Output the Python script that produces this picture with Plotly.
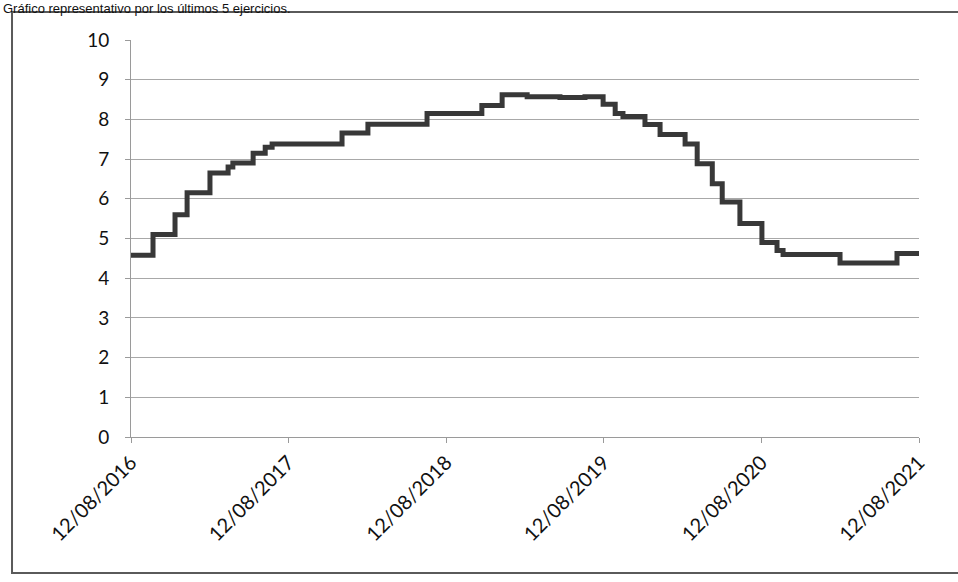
import plotly.graph_objects as go

# Step change dates and values
change_dates = [
    "2016-08-12", "2016-10-02", "2016-11-22", "2016-12-20", "2017-02-11",
    "2017-03-25", "2017-04-05", "2017-05-22", "2017-06-19", "2017-07-05",
    "2017-12-14", "2018-02-12", "2018-06-29", "2018-11-03", "2018-12-20",
    "2019-02-16", "2019-05-03", "2019-06-30", "2019-08-11", "2019-09-08",
    "2019-09-26", "2019-11-16", "2019-12-21", "2020-02-17", "2020-03-16",
    "2020-04-20", "2020-05-13", "2020-06-23", "2020-08-13", "2020-09-17",
    "2020-10-01", "2021-02-10", "2021-06-22", "2021-08-12",
]
change_values = [
    4.58, 5.10, 5.60, 6.15, 6.65,
    6.80, 6.90, 7.15, 7.30, 7.38,
    7.66, 7.88, 8.15, 8.35, 8.62,
    8.57, 8.55, 8.57, 8.38, 8.15,
    8.07, 7.87, 7.62, 7.38, 6.88,
    6.38, 5.92, 5.38, 4.90, 4.70,
    4.60, 4.38, 4.62, 4.62,
]

x_tick_vals = ["2016-08-12", "2017-08-12", "2018-08-12", "2019-08-12", "2020-08-12", "2021-08-12"]
x_tick_text = ["12/08/2016", "12/08/2017", "12/08/2018", "12/08/2019", "12/08/2020", "12/08/2021"]
y_tick_vals = [0, 1, 2, 3, 4, 5, 6, 7, 8, 9, 10]

title_text = "Gráfico representativo por los últimos 5 ejercicios."

FONT = "Lato, Open Sans, sans-serif"

fig = go.Figure()
fig.add_trace(go.Scatter(
    x=change_dates, y=change_values, mode="lines",
    line=dict(shape="hv", color="#383838", width=5),
    showlegend=False, hoverinfo="skip",
))

fig.update_layout(
    width=958, height=582,
    margin=dict(l=131, r=39, t=40, b=145),
    paper_bgcolor="white", plot_bgcolor="white",
    font=dict(family=FONT, size=19, color="#111111"),
    xaxis=dict(
        type="date", range=["2016-08-12", "2021-08-12"],
        tickvals=x_tick_vals, ticktext=x_tick_text, tickangle=-45,
        showgrid=False, zeroline=False,
        showline=True, linecolor="#9a9a9a", linewidth=1,
        ticks="outside", ticklen=5, tickcolor="#9a9a9a",
        tickfont=dict(family=FONT, size=20, color="#111111"),
    ),
    yaxis=dict(
        range=[0, 10], tickvals=y_tick_vals,
        showgrid=True, gridcolor="#a8a8a8", gridwidth=1,
        zeroline=False,
        showline=True, linecolor="#9a9a9a", linewidth=1,
        ticks="outside", ticklen=5, tickcolor="#9a9a9a",
        ticklabelstandoff=12,
        tickfont=dict(family=FONT, size=19, color="#111111"),
    ),
    shapes=[dict(
        type="rect", xref="paper", yref="paper",
        x0=-0.151, x1=1.06, y0=-0.3426, y1=1.0705,
        line=dict(color="#5a5a5a", width=2), fillcolor="rgba(0,0,0,0)",
        layer="below",
    )],
    annotations=[dict(
        text=title_text, xref="paper", yref="paper",
        x=-0.1637, y=1.1008, xanchor="left", yanchor="top",
        showarrow=False, borderpad=0,
        font=dict(family="Liberation Sans, Arial", size=13, color="#111111"),
    )],
)

fig.write_html("out.html", config={"displayModeBar": False},
               post_script="document.body.style.margin='0';")
